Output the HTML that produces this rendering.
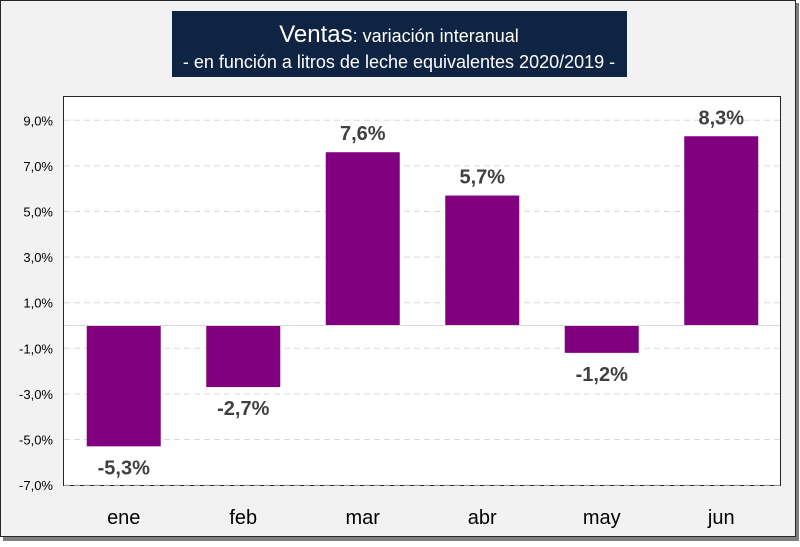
<!DOCTYPE html>
<html><head><meta charset="utf-8"><style>
body{margin:0;width:800px;height:542px;background:#fff;overflow:hidden;font-family:"Liberation Sans",sans-serif}
</style></head><body>
<svg width="800" height="542">
<rect x="3" y="3" width="796" height="538" fill="#7f7f7f"/>
<rect x="0.5" y="0.5" width="795" height="536" fill="#f2f2f2" stroke="#262626"/>
<rect x="172" y="11" width="455" height="66" fill="#0f2443"/>
<text x="399" y="42" text-anchor="middle" fill="#fff" font-size="18"><tspan font-size="24">Ventas</tspan>: variación interanual</text>
<text x="399" y="68" text-anchor="middle" fill="#fff" font-size="18">- en función a litros de leche equivalentes 2020/2019 -</text>
<rect x="63.5" y="96.5" width="717" height="389" fill="#fff" stroke="#262626"/>
<g id="grid"></g><g id="bars"></g><g id="labels"></g>
</svg>
<script>
const categories=["ene","feb","mar","abr","may","jun"];
const values=[-5.3,-2.7,7.6,5.7,-1.2,8.3];
const valueLabels=["-5,3%","-2,7%","7,6%","5,7%","-1,2%","8,3%"];
const ticks=[9,7,5,3,1,-1,-3,-5,-7];
const tickLabels=["9,0%","7,0%","5,0%","3,0%","1,0%","-1,0%","-3,0%","-5,0%","-7,0%"];
const NS="http://www.w3.org/2000/svg";
const y=v=>325.5-(v)*22.8;
const x0=64,band=119.5;
const xc=i=>x0+band*(i+0.5);
function mk(t,a,p){const e=document.createElementNS(NS,t);for(const k in a)e.setAttribute(k,a[k]);document.getElementById(p).appendChild(e);return e;}
ticks.forEach((t,i)=>{
 const l=mk("line",{x1:64,x2:780,y1:y(t),y2:y(t),stroke:"#d9d9d9","stroke-dasharray":"6,4"},"grid");
 
 
 const tx=mk("text",{x:53,y:y(t)+5,"text-anchor":"end","font-size":"13",fill:"#000"},"grid");
 tx.textContent=tickLabels[i];
 
 
});
values.forEach((v,i)=>{
 const r=mk("rect",{x:xc(i)-37,width:74,y:Math.min(y(v),y(0)),height:Math.abs(y(v)-y(0)),fill:"#800080"},"bars");
 
 
 const lb=mk("text",{x:xc(i),y:v>=0?y(v)-12:y(v)+28,"text-anchor":"middle","font-size":"20","font-weight":"bold",fill:"#404040"},"labels");
 lb.textContent=valueLabels[i];
 
 
 const c=mk("text",{x:xc(i),y:524,"text-anchor":"middle","font-size":"20",fill:"#000"},"labels");
 c.textContent=categories[i];
 
 
});
const z=mk("line",{x1:64,x2:780,y1:y(0),y2:y(0),stroke:"#d9d9d9","stroke-width":1},"labels");


</script>
</body></html>
